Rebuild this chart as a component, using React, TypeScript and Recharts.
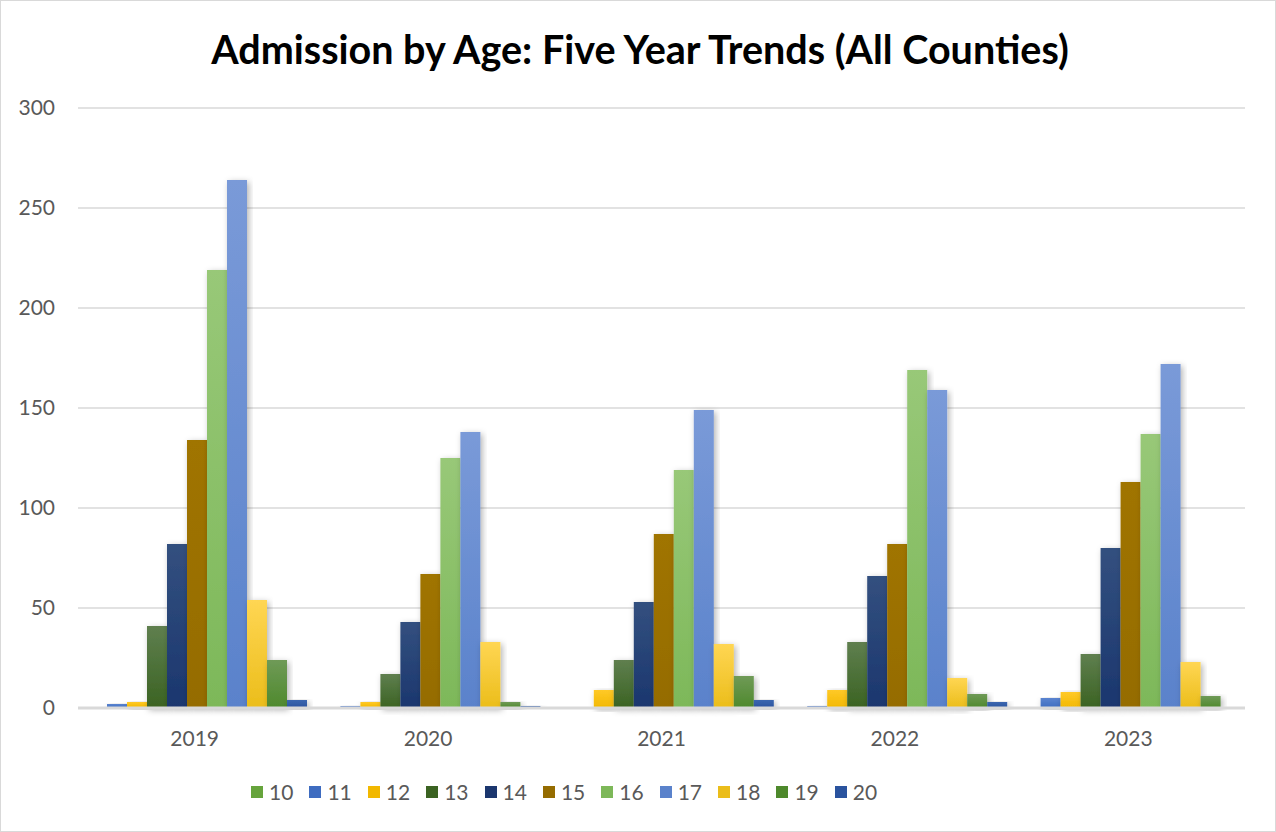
import { BarChart, Bar, XAxis, YAxis, CartesianGrid, Legend } from "recharts";

const years = ["2019", "2020", "2021", "2022", "2023"];
const ages = ["10", "11", "12", "13", "14", "15", "16", "17", "18", "19", "20"];

// admissions per age, one list per age, in year order
const age10 = [0, 0, 0, 0, 0];
const age11 = [2, 1, 0, 1, 5];
const age12 = [3, 3, 9, 9, 8];
const age13 = [41, 17, 24, 33, 27];
const age14 = [82, 43, 53, 66, 80];
const age15 = [134, 67, 87, 82, 113];
const age16 = [219, 125, 119, 169, 137];
const age17 = [264, 138, 149, 159, 172];
const age18 = [54, 33, 32, 15, 23];
const age19 = [24, 3, 16, 7, 6];
const age20 = [4, 1, 4, 3, 0];

const seriesValues = [age10, age11, age12, age13, age14, age15, age16, age17, age18, age19, age20];

const data = years.map((year, i) => {
  const row: any = { year };
  ages.forEach((a, j) => (row[a] = seriesValues[j][i]));
  return row;
});

// [top, bottom] of each bar's gradient
const COLORS = [
  ["#7DB85A", "#66A43C"],
  ["#5B84D0", "#3E6CC0"],
  ["#FFC928", "#F2B800"],
  ["#5F7F4F", "#3B6322"],
  ["#33507F", "#1B366E"],
  ["#A07400", "#956C00"],
  ["#98C878", "#7DB859"],
  ["#7A9AD8", "#5A82CB"],
  ["#FFD653", "#EBBD1A"],
  ["#6F9A57", "#4E892C"],
  ["#3C67B0", "#2A539E"],
];

const FONT = "Lato, sans-serif";

const renderLegend = () => (
  <div style={{ display: "flex", fontFamily: FONT, fontSize: 21, color: "#595959" }}>
    {ages.map((a, i) => (
      <div key={a} style={{ display: "flex", alignItems: "center", marginRight: 16 }}>
        <span style={{ width: 12, height: 12, background: COLORS[i][1], marginRight: 6, display: "inline-block" }} />
        {a}
      </div>
    ))}
  </div>
);

const App = () => {
  return (
    <div style={{ position: "fixed", left: 0, top: 0, width: 1276, height: 832, background: "#fff" }}>
      <div
        style={{
          position: "absolute",
          left: 0,
          top: 0,
          width: 1274,
          height: 830,
          border: "1px solid #D9D9D9",
        }}
      />
      <div
        style={{
          position: "absolute",
          top: 25,
          left: 0,
          width: 1280,
          textAlign: "center",
          fontFamily: FONT,
          fontWeight: 700,
          fontSize: 39.5,
          color: "#000",
        }}
      >
        Admission by Age: Five Year Trends (All Counties)
      </div>
      <BarChart
        width={1276}
        height={832}
        data={data}
        margin={{ top: 108, right: 31, left: 0, bottom: 34 }}
        barGap={0}
        barCategoryGap={9}
      >
        <defs>
          {COLORS.map((c, i) => (
            <linearGradient key={i} id={`g${i}`} x1="0" y1="0" x2="0" y2="1">
              <stop offset="0%" stopColor={c[0]} />
              <stop offset="100%" stopColor={c[1]} />
            </linearGradient>
          ))}
          <filter id="shadow" x="-30%" y="-10%" width="160%" height="130%">
            <feDropShadow dx="2" dy="2" stdDeviation="3" floodColor="#000" floodOpacity="0.3" />
          </filter>
        </defs>
        <CartesianGrid vertical={false} stroke="#D9D9D9" strokeWidth={1.5} />
        <XAxis
          dataKey="year"
          height={40}
          tickLine={false}
          axisLine={{ stroke: "#D9D9D9", strokeWidth: 3 }}
          tick={{ fill: "#595959", fontSize: 21, fontFamily: FONT }}
          tickMargin={17}
        />
        <YAxis
          width={78}
          domain={[0, 300]}
          ticks={[0, 50, 100, 150, 200, 250, 300]}
          axisLine={false}
          tickLine={false}
          tick={{ fill: "#595959", fontSize: 21, fontFamily: FONT }}
          tickMargin={17}
        />
        <Legend
          height={50}
          verticalAlign="bottom"
          content={renderLegend}
          wrapperStyle={{ left: 251, top: 779, width: 720 }}
        />
        {ages.map((a, i) => (
          <Bar
            key={a}
            dataKey={a}
            fill={`url(#g${i})`}
            filter="url(#shadow)"
            isAnimationActive={false}
          />
        ))}
      </BarChart>
    </div>
  );
};

export default App;
